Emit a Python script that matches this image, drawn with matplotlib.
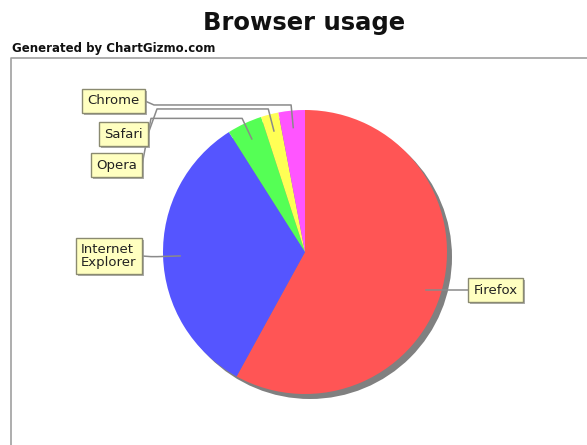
import numpy as np
import matplotlib.pyplot as plt
from matplotlib import patheffects

# browser share data
browsers = ['Firefox', 'Internet\nExplorer', 'Opera', 'Safari', 'Chrome']
shares = [58, 33, 4, 2, 3]
colors = ['#FF5555', '#5555FF', '#55FF55', '#FFFF55', '#FF55FF']

W, H = 587, 445

def py(y):
    '''pixel row (from top) to data y'''
    return H - y

fig = plt.figure(figsize=(W / 100, H / 100), dpi=100)
ax = fig.add_axes([0, 0, 1, 1])

cx, cy, r = 305, py(252), 142

'''plot area border'''
ax.plot([11, 11, W + 5], [py(H + 5), py(58), py(58)], color='#a0a0a0', lw=1.2)

'''shadow behind the pie'''
shadow = plt.Circle((cx + 5, cy - 5), r, color='#808080', lw=0, zorder=1)
ax.add_patch(shadow)

wedges, _ = ax.pie(shares, colors=colors, startangle=90, counterclock=False,
                   center=(cx, cy), radius=r, wedgeprops=dict(linewidth=0))
for w in wedges:
    w.set_zorder(2)

'''label box positions (layout only): x of box edge next to the link, y centre'''
label_pos = {
    'Firefox': (468, 290, 'left'),
    'Internet\nExplorer': (142, 256, 'right'),
    'Opera': (142, 165, 'right'),
    'Safari': (148, 134, 'right'),
    'Chrome': (145, 101, 'right'),
}

fs = 9.5
pad = 0.4
pad_px = pad * fs * 100 / 72.0

total = float(sum(shares))
start = 0.0
for name, val in zip(browsers, shares):
    mid = start + val / total * 360.0 / 2
    start += val / total * 360.0
    th = np.radians(mid)
    dx, dy = np.sin(th), np.cos(th)
    a_pt = (cx + 0.88 * r * dx, cy + 0.88 * r * dy)
    e_pt = (cx + 1.04 * r * dx, cy + 1.04 * r * dy)
    bx, by, side = label_pos[name]
    if side == 'right':
        pts = [a_pt, e_pt, (bx + 9, e_pt[1]), (bx, py(by))]
        tx = bx - pad_px
    else:
        # straight horizontal link into the slice
        pts = [(a_pt[0], py(by)), (bx, py(by))]
        tx = bx + pad_px
    xs, ys = zip(*pts)
    ax.plot(xs, ys, color='#8a8a8a', lw=1.1, zorder=3)
    box = dict(boxstyle='square,pad=%s' % pad, fc='#FFFFC0', ec='#8a8a70', lw=1)
    t = ax.text(tx, py(by), name, ha=side, va='center', fontsize=fs,
                color='#222222', bbox=box, linespacing=1.0, zorder=5,
                multialignment='left')
    t.get_bbox_patch().set_path_effects([
        patheffects.withSimplePatchShadow(offset=(1.5, -1.5),
                                          shadow_rgbFace='#999999', alpha=0.8)])

ax.text(304, py(30), 'Browser usage', ha='center', va='baseline',
        fontsize=17.5, fontweight='bold', color='#111111')
ax.text(12, py(52), 'Generated by ChartGizmo.com', ha='left', va='baseline',
        fontsize=8.5, fontweight='bold', color='#111111')

ax.set_xlim(0, W)
ax.set_ylim(0, H)
ax.axis('off')
plt.savefig('out.png', dpi=100)
